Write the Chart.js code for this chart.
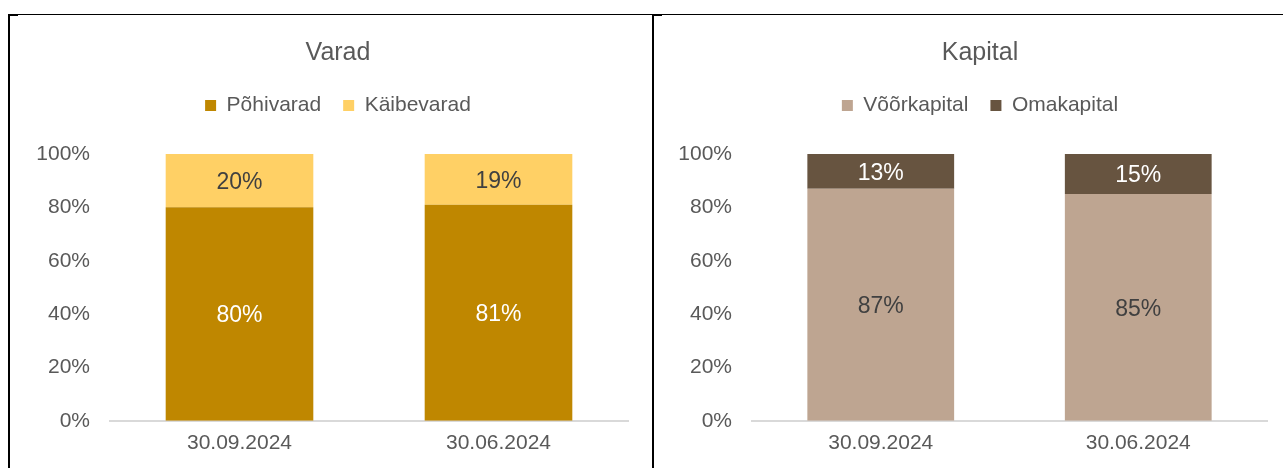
<!DOCTYPE html>
<html>
<head>
<meta charset="utf-8">
<script src="https://cdn.jsdelivr.net/npm/chart.js@4.4.0/dist/chart.umd.min.js"></script>
<style>
  body { margin: 0; background: #fff; width: 1283px; height: 468px; position: relative; overflow: hidden; }
  .topline { position: absolute; left: 8px; top: 14px; width: 1275px; height: 1px; background: #000; }
  .vline { position: absolute; top: 14px; width: 2px; height: 454px; background: #000; }
  .tick { position: absolute; top: 14px; width: 10px; height: 2px; background: #000; }
  .panel { position: absolute; top: 16px; height: 452px; }
</style>
</head>
<body>
<div class="topline"></div>
<div class="vline" style="left:8px"></div>
<div class="vline" style="left:652px"></div>
<div class="tick" style="left:8px"></div>
<div class="tick" style="left:652px"></div>
<div class="panel" style="left:10px; width:642px"><canvas id="varadChart" width="642" height="452"></canvas></div>
<div class="panel" style="left:654px; width:629px"><canvas id="kapitalChart" width="629" height="452"></canvas></div>
<script>
// categories and values (percent)
var dates = ["30.09.2024", "30.06.2024"];
var yTicks = [0, 20, 40, 60, 80, 100];

var pohivarad = [80, 81];
var kaibevarad = [20, 19];

var voorkapital = [87, 85];
var omakapital = [13, 15];

var textGrey = "#595959";
var fontName = "'Liberation Sans', Arial, sans-serif";

// draws the % labels in the middle of every bar segment
var barLabels = {
	id: "barLabels",
	afterDatasetsDraw: function(chart) {
		var ctx = chart.ctx;
		ctx.save();
		ctx.font = "23px " + fontName;
		ctx.textAlign = "center";
		ctx.textBaseline = "middle";
		chart.data.datasets.forEach(function(ds, i) {
			var meta = chart.getDatasetMeta(i);
			meta.data.forEach(function(bar, j) {
				ctx.fillStyle = ds.labelColor;
				ctx.fillText(ds.data[j] + "%", bar.x, (bar.y + bar.base) / 2 + 2);
			});
		});
		ctx.restore();
	}
};

// extra room between legend and plot
var legendSpace = {
	id: "legendSpace",
	beforeInit: function(chart) {
		var fit = chart.legend.fit;
		chart.legend.fit = function() {
			fit.call(this);
			this.height += 28;
		};
	}
};

function makeChart(id, title, ds1, ds2, padLeft, padRight, axisWidth) {
	var ctx = document.getElementById(id).getContext("2d");
	return new Chart(ctx, {
		type: "bar",
		data: {
			labels: dates,
			datasets: [ds1, ds2]
		},
		options: {
			responsive: false,
			animation: false,
			layout: { padding: { top: 14, right: padRight, left: padLeft, bottom: 2 } },
			plugins: {
				title: {
					display: true,
					text: title,
					color: textGrey,
					font: { family: fontName, size: 25, weight: "normal" },
					padding: { top: 8, bottom: 5 }
				},
				legend: {
					display: true,
					labels: {
						color: textGrey,
						font: { family: fontName, size: 21 },
						boxWidth: 11,
						boxHeight: 11,
						padding: 22
					}
				},
				tooltip: { enabled: false }
			},
			scales: {
				x: {
					stacked: true,
					grid: { display: false, drawTicks: false },
					border: { color: "#D9D9D9", width: 2 },
					ticks: { color: textGrey, font: { family: fontName, size: 21 }, padding: 10 }
				},
				y: {
					stacked: true,
					min: 0,
					max: 100,
					afterBuildTicks: function(axis) {
						axis.ticks = yTicks.map(function(v) { return { value: v }; });
					},
					afterFit: function(axis) {
						axis.width = axisWidth;
						// let the tick labels reach into the left padding
						axis._computeLabelArea = function() { return undefined; };
					},
					grid: { display: false, drawTicks: false },
					border: { display: false },
					ticks: {
						color: textGrey,
						font: { family: fontName, size: 21 },
						padding: 20,
						callback: function(v) { return v + "%"; }
					}
				}
			}
		},
		plugins: [barLabels, legendSpace]
	});
}

makeChart("varadChart", "Varad", {
	label: "Põhivarad",
	data: pohivarad,
	backgroundColor: "#BF8700",
	labelColor: "#FFFFFF",
	barPercentage: 0.57,
	categoryPercentage: 1.0
}, {
	label: "Käibevarad",
	data: kaibevarad,
	backgroundColor: "#FFD065",
	labelColor: "#404040",
	barPercentage: 0.57,
	categoryPercentage: 1.0
}, 38, 24, 62);

makeChart("kapitalChart", "Kapital", {
	label: "Võõrkapital",
	data: voorkapital,
	backgroundColor: "#BEA591",
	labelColor: "#404040",
	barPercentage: 0.57,
	categoryPercentage: 1.0
}, {
	label: "Omakapital",
	data: omakapital,
	backgroundColor: "#675440",
	labelColor: "#FFFFFF",
	barPercentage: 0.57,
	categoryPercentage: 1.0
}, 39, 16, 59);
</script>
</body>
</html>
